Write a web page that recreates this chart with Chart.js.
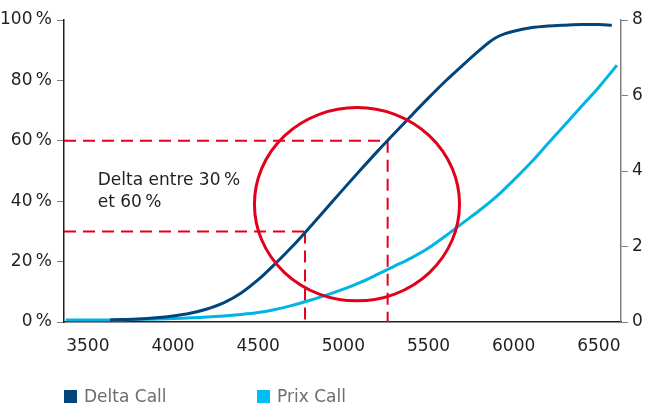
<!DOCTYPE html>
<html>
<head>
<meta charset="utf-8">
<script src="https://cdn.jsdelivr.net/npm/chart.js@4/dist/chart.umd.min.js"></script>
<style>
  body { margin: 0; background: #fff; }
  #wrap { position: relative; width: 649px; height: 405px; }
  .leg { position: absolute; top: 386px; font: 17px "DejaVu Sans"; color: #6d6e71; white-space: nowrap; }
  .leg i { display: inline-block; width: 13px; height: 13px; margin-right: 7px; vertical-align: -1px; }
</style>
</head>
<body>
<div id="wrap">
  <canvas id="graf" width="649" height="405"></canvas>
  <div class="leg" style="left:64px"><i style="background:#00457c"></i>Delta Call</div>
  <div class="leg" style="left:257px"><i style="background:#00bdf2"></i>Prix Call</div>
</div>
<script>
// courbe delta (en %) en fonction du sous-jacent
const deltaX = [3630, 3700, 3800, 3900, 4000, 4100, 4200, 4300, 4400, 4500, 4600, 4700, 4800, 4900, 5000, 5100, 5200, 5300, 5400, 5500, 5600, 5700, 5800, 5850, 5900, 5950, 6000, 6100, 6200, 6300, 6400, 6500, 6576];
const deltaY = [0.7, 0.8, 1.0, 1.4, 2.0, 2.9, 4.3, 6.4, 9.6, 14.0, 19.3, 25.0, 31.2, 37.6, 44.0, 50.3, 56.5, 62.5, 68.4, 74.2, 79.8, 85.0, 90.0, 92.4, 94.3, 95.5, 96.3, 97.4, 98.0, 98.3, 98.5, 98.5, 98.3];
// prix du call (axe de droite)
const prixX = [3370, 3600, 3800, 4000, 4200, 4400, 4500, 4600, 4700, 4800, 4900, 5000, 5100, 5200, 5300, 5400, 5500, 5600, 5700, 5800, 5900, 6000, 6100, 6200, 6300, 6400, 6500, 6606];
const prixY = [0.05, 0.05, 0.07, 0.09, 0.13, 0.2, 0.25, 0.33, 0.44, 0.57, 0.71, 0.87, 1.05, 1.26, 1.48, 1.7, 1.96, 2.28, 2.62, 2.96, 3.33, 3.76, 4.22, 4.72, 5.22, 5.72, 6.22, 6.8];

const xTicks = [3500, 4000, 4500, 5000, 5500, 6000, 6500];
const pctTicks = [0, 20, 40, 60, 80, 100];
const prixTicks = [0, 2, 4, 6, 8];

// repères : delta 30 % et 60 %
const niveaux = [30, 60];
const strikes = [4775, 5260];
const cercleCentre = [5080, 39];
const cercleRayon = [602, 32];
const texteLignes = ["Delta entre 30\u202F%", "et 60\u202F%"];
const textePos = [[3558, 46.7], [3558, 39.7]];

const ROUGE = '#e2001a';

const repères = {
    id: 'reperes',
    beforeDatasetsDraw(chart) {
        const { ctx, chartArea, scales: { x, y } } = chart;
        ctx.save();
        ctx.strokeStyle = ROUGE;
        ctx.lineWidth = 2;
        ctx.setLineDash([12, 7]);
        niveaux.forEach((n, i) => {
            const px = x.getPixelForValue(strikes[i]);
            const py = y.getPixelForValue(n);
            ctx.beginPath();
            ctx.moveTo(chartArea.left, py);
            ctx.lineTo(px, py);
            ctx.stroke();
            ctx.beginPath();
            ctx.moveTo(px, py);
            ctx.lineTo(px, chartArea.bottom);
            ctx.stroke();
        });
        ctx.setLineDash([]);
        ctx.fillStyle = '#231f20';
        ctx.font = '17px "DejaVu Sans"';
        ctx.textBaseline = 'middle';
        texteLignes.forEach((t, i) => {
            ctx.fillText(t, x.getPixelForValue(textePos[i][0]), y.getPixelForValue(textePos[i][1]));
        });
        ctx.restore();
    },
    afterDatasetsDraw(chart) {
        const { ctx, scales: { x, y } } = chart;
        const cx = x.getPixelForValue(cercleCentre[0]);
        const cy = y.getPixelForValue(cercleCentre[1]);
        const rx = x.getPixelForValue(cercleCentre[0] + cercleRayon[0]) - cx;
        const ry = cy - y.getPixelForValue(cercleCentre[1] + cercleRayon[1]);
        ctx.save();
        ctx.strokeStyle = ROUGE;
        ctx.lineWidth = 3;
        ctx.beginPath();
        ctx.ellipse(cx, cy, rx, ry, 0, 0, Math.PI * 2);
        ctx.stroke();
        ctx.restore();
    }
};

Chart.defaults.font.family = '"DejaVu Sans"';
Chart.defaults.font.size = 17;
Chart.defaults.color = '#231f20';

new Chart(document.getElementById('graf'), {
    type: 'line',
    data: {
        datasets: [
            { label: 'Delta Call', data: deltaX.map((v, i) => ({ x: v, y: deltaY[i] })), yAxisID: 'y',
              borderColor: '#00457c', borderWidth: 3, pointRadius: 0, cubicInterpolationMode: 'monotone' },
            { label: 'Prix Call', data: prixX.map((v, i) => ({ x: v, y: prixY[i] })), yAxisID: 'y2',
              borderColor: '#00b4e6', borderWidth: 3, pointRadius: 0, cubicInterpolationMode: 'monotone' }
        ]
    },
    options: {
        responsive: false,
        animation: false,
        layout: { padding: { top: 20, bottom: 43, left: 0, right: 0 } },
        plugins: { legend: { display: false }, tooltip: { enabled: false } },
        scales: {
            x: {
                type: 'linear', min: 3360, max: 6630,
                afterBuildTicks: s => { s.ticks = xTicks.map(v => ({ value: v })); },
                afterFit: s => { s.height = 40; },
                grid: { display: false },
                border: { color: '#231f20', width: 1.5 },
                ticks: { padding: 6, maxRotation: 0, autoSkip: false, callback: v => String(v) }
            },
            y: {
                position: 'left', min: 0, max: 100,
                afterBuildTicks: s => { s.ticks = pctTicks.map(v => ({ value: v })); },
                afterFit: s => { s.width = 64; },
                grid: { drawOnChartArea: false, tickLength: 7, color: '#808080' },
                border: { color: '#231f20', width: 1.5 },
                ticks: { padding: 5, callback: v => v + '\u202F%' }
            },
            y2: {
                position: 'right', min: 0, max: 8,
                afterBuildTicks: s => { s.ticks = prixTicks.map(v => ({ value: v })); },
                afterFit: s => { s.width = 28; },
                grid: { drawOnChartArea: false, tickLength: 7, color: '#808080' },
                border: { color: '#808080', width: 1.5 },
                ticks: { padding: 4 }
            }
        }
    },
    plugins: [repères]
});
</script>
</body>
</html>
